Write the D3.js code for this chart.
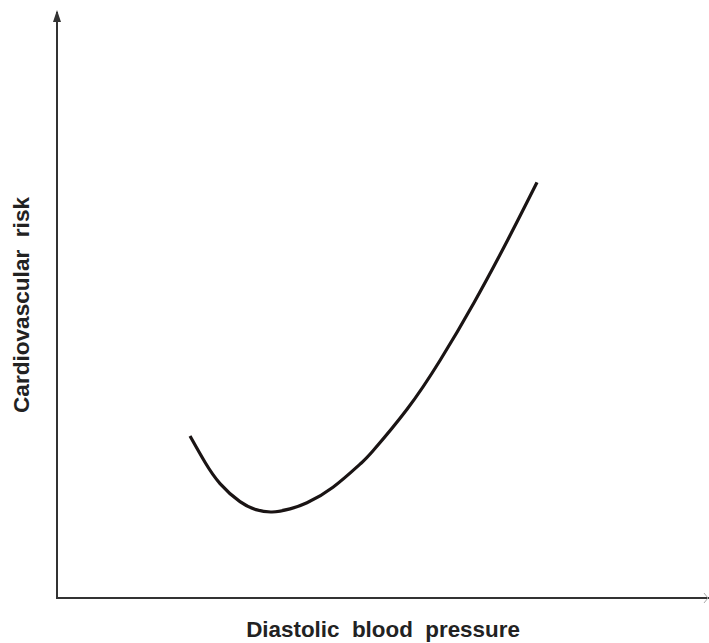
<!DOCTYPE html>
<html><head><meta charset="utf-8">
<script src="https://cdn.jsdelivr.net/npm/d3@7"></script>
<style>html,body{margin:0;padding:0;background:#fff;}svg{display:block;}</style>
</head><body><svg id="c" width="709" height="643"></svg>
<script>
const pressure = [20.46, 22.77, 25.08, 28.15, 30.62, 33.08, 35.85, 38.46, 42.46, 46.62, 48.62, 53.85, 58.92, 64.15, 69.38, 73.85];
const risk     = [27.55, 23.08, 19.46, 16.39, 15.03, 14.63, 15.15, 16.19, 18.84, 22.76, 25.03, 32.09, 40.39, 50.22, 60.97, 70.68];
const xLabel = "Diastolic  blood  pressure";
const yLabel = "Cardiovascular  risk";

const svg = d3.select("#c");
const x = d3.scaleLinear().domain([0, 100]).range([57, 707]);
const y = d3.scaleLinear().domain([0, 100]).range([598, 10]);
const axisColor = "#333";

// axes
svg.append("line").attr("x1", x(0)).attr("x2", x(0)).attr("y1", y(0)+1).attr("y2", y(100)+2)
  .attr("stroke", axisColor).attr("stroke-width", 2);
svg.append("line").attr("x1", x(0)-1).attr("x2", 709).attr("y1", y(0)).attr("y2", y(0))
  .attr("stroke", axisColor).attr("stroke-width", 2);
// arrowhead on y axis
svg.append("path")
  .attr("d", `M${x(0)},${y(100)} L${x(0)-4},${y(100)+12} L${x(0)+4},${y(100)+12} Z`)
  .attr("fill", axisColor);
// tiny arrow marks at right end
svg.append("path")
  .attr("d", `M704,${y(0)-5} L708,${y(0)} L704,${y(0)+5}`)
  .attr("fill", "none").attr("stroke", "#aaa").attr("stroke-width", 1);

// curve
const pts = pressure.map((p, i) => [p, risk[i]]);
const line = d3.line().x(d => x(d[0])).y(d => y(d[1])).curve(d3.curveNatural);
svg.append("path").attr("d", line(pts)).attr("fill", "none")
  .attr("stroke", "#1a1414").attr("stroke-width", 3.2).attr("stroke-linecap", "butt");

// labels
svg.append("text").attr("x", 383).attr("y", 637).attr("text-anchor", "middle")
  .style("font-family", "'Liberation Sans', Arial, sans-serif").style("font-weight", "bold")
  .style("font-size", "22.4px").style("white-space", "pre").attr("fill", "#222").text(xLabel);
svg.append("text").attr("transform", "translate(29,305) rotate(-90)").attr("text-anchor", "middle")
  .style("font-family", "'Liberation Sans', Arial, sans-serif").style("font-weight", "bold")
  .style("font-size", "22.6px").style("white-space", "pre").attr("fill", "#222").text(yLabel);
</script></body></html>
